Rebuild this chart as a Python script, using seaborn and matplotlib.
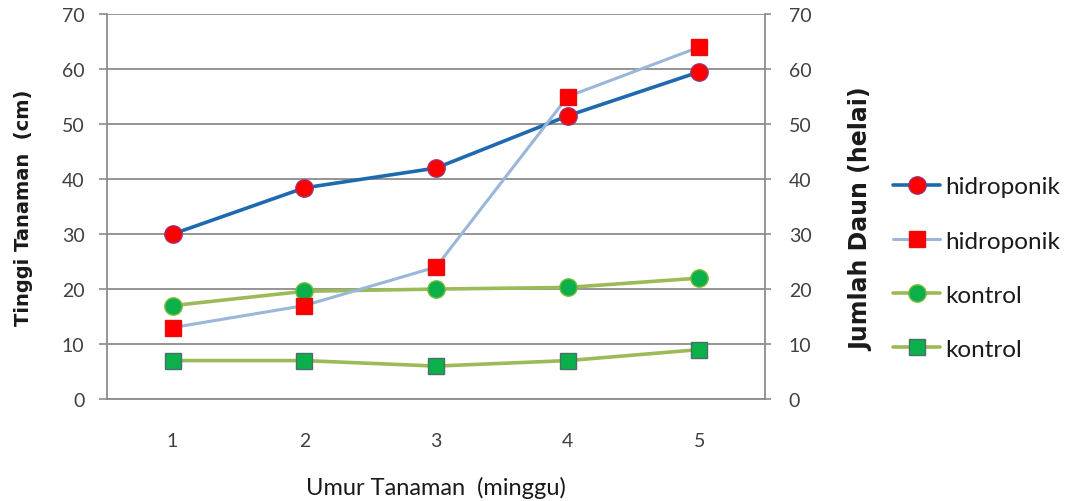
import matplotlib
matplotlib.use("Agg")
import matplotlib.pyplot as plt
import seaborn as sns

# Data: plant height (left axis) and leaf count (right axis) per week
minggu = [1, 2, 3, 4, 5]
tinggi_hidroponik = [30, 38.4, 42, 51.5, 59.5]
daun_hidroponik = [13, 17, 24, 55, 64]
tinggi_kontrol = [17, 19.6, 20, 20.3, 22]
daun_kontrol = [7, 7, 6, 7, 9]
y_ticks = [0, 10, 20, 30, 40, 50, 60, 70]
x_labels = ["1", "2", "3", "4", "5"]

sns.set_theme(style="white")
plt.rcParams["font.family"] = ["Lato", "DejaVu Sans"]

GRID = "#8c8c8c"
TXT = "#404040"
DARK = "#1a1a1a"

fig = plt.figure(figsize=(10.76, 5.02), dpi=100)
ax1 = fig.add_axes([0.0992, 0.203, 0.612, 0.767])
ax2 = ax1.twinx()

# Height series (primary axis)
sns.lineplot(x=minggu, y=tinggi_hidroponik, ax=ax1, color="#1f6aae", linewidth=2.6,
             marker="o", markersize=12.5, markerfacecolor="#ff0000",
             markeredgecolor="#a0306a", markeredgewidth=1.0, label="hidroponik")
sns.lineplot(x=minggu, y=tinggi_kontrol, ax=ax1, color="#9bbb59", linewidth=2.6,
             marker="o", markersize=12.5, markerfacecolor="#0bb04a",
             markeredgecolor="#7dbb3c", markeredgewidth=1.0, label="kontrol")

# Leaf-count series (secondary axis)
sns.lineplot(x=minggu, y=daun_hidroponik, ax=ax2, color="#9ab6d9", linewidth=2.2,
             marker="s", markersize=12, markerfacecolor="#ff0000",
             markeredgecolor="#e01010", markeredgewidth=1.0, label="hidroponik")
sns.lineplot(x=minggu, y=daun_kontrol, ax=ax2, color="#9bbb59", linewidth=2.6,
             marker="s", markersize=12, markerfacecolor="#0bb04a",
             markeredgecolor="#4a6f6a", markeredgewidth=1.0, label="kontrol")

for ax in (ax1, ax2):
    ax.set_xlim(0.5, 5.5)
    ax.set_ylim(0, 70)
    ax.set_yticks(y_ticks)
    ax.get_legend().remove()
    for s in ax.spines.values():
        s.set_visible(False)

ax1.set_xticks(minggu)
ax1.set_xticklabels(x_labels)
ax1.yaxis.grid(True, color=GRID, linewidth=1.3)
ax1.set_axisbelow(True)
for side in ("left", "bottom"):
    ax1.spines[side].set_visible(True)
    ax1.spines[side].set_color(GRID)
    ax1.spines[side].set_linewidth(1.3)
ax2.spines["right"].set_visible(True)
ax2.spines["right"].set_color(GRID)
ax2.spines["right"].set_linewidth(1.3)

ax1.tick_params(axis="y", which="both", left=True, length=6, width=1.2, color=GRID,
                pad=10, labelsize=14, labelcolor=TXT)
ax1.tick_params(axis="x", bottom=False, length=0, pad=24, labelsize=14, labelcolor=TXT)
ax2.tick_params(axis="y", right=True, length=4, width=1.2, color=GRID,
                pad=13, labelsize=14, labelcolor=TXT)

ax1.set_ylabel("Tinggi Tanaman  (cm)", fontsize=14, fontweight="bold", color=DARK,
               family="DejaVu Sans")
ax1.yaxis.set_label_coords(-0.112, 0.5)
ax2.set_ylabel("Jumlah Daun (helai)", fontsize=17, fontweight="bold", color=DARK,
               family="DejaVu Sans")
ax2.yaxis.set_label_coords(1.127, 0.47)
ax1.set_xlabel("Umur Tanaman  (minggu)", fontsize=17, color=DARK)
ax1.xaxis.set_label_coords(0.5, -0.2)

h1, l1 = ax1.get_legend_handles_labels()
h2, l2 = ax2.get_legend_handles_labels()
handles = [h1[0], h2[0], h1[1], h2[1]]
labels = [l1[0], l2[0], l1[1], l2[1]]
fig.legend(handles, labels, loc="center left", bbox_to_anchor=(0.83, 0.464),
           frameon=False, fontsize=17.5, handlelength=1.95, handletextpad=0.2,
           labelspacing=1.36, borderpad=0, borderaxespad=0, labelcolor=DARK)

fig.savefig("out.png", dpi=100)
